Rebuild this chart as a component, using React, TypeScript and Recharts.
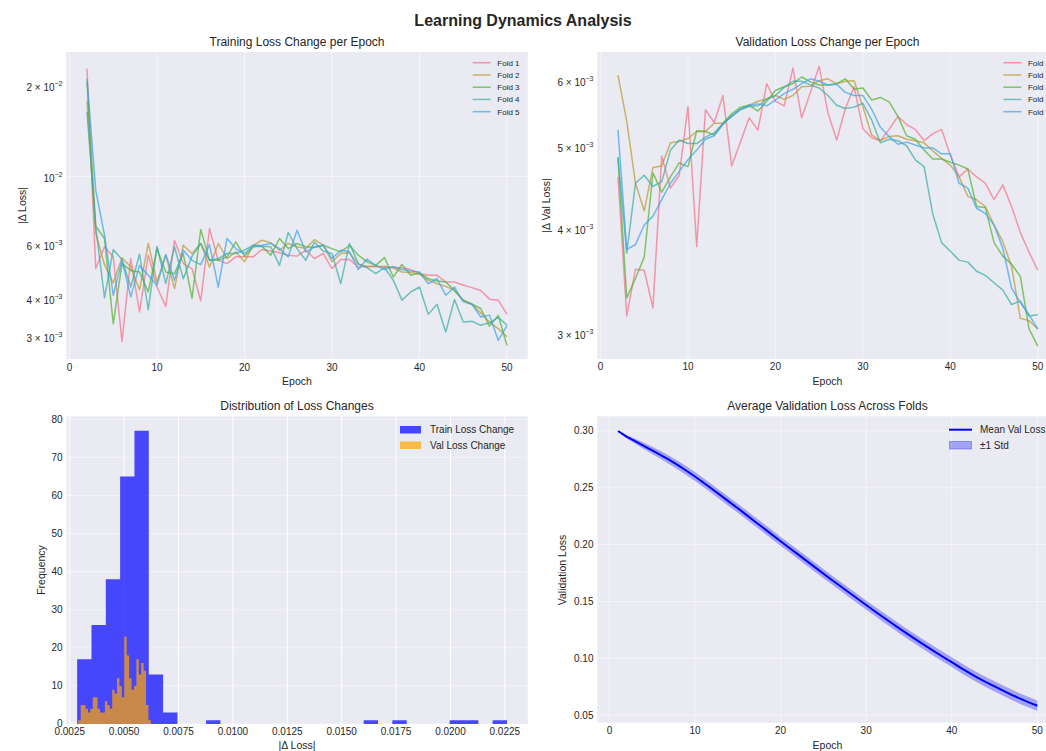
import React from "react";
import {
  LineChart,
  Line,
  ComposedChart,
  Area,
  XAxis,
  YAxis,
  CartesianGrid,
  ReferenceLine,
} from "recharts";

const INK = "#262626";
const PANEL_BG = "#EAEAF2";
const FONT = '"Liberation Sans", Arial, Helvetica, sans-serif';

const FOLD_NAMES = ["Fold 1", "Fold 2", "Fold 3", "Fold 4", "Fold 5"];
const FOLD_COLORS = ["#f77189", "#bb9832", "#50b131", "#36ada4", "#3ba3ec"];

const EPOCHS = [
  1, 2, 3, 4, 5, 6, 7, 8, 9, 10, 11, 12, 13, 14, 15, 16, 17, 18, 19, 20, 21, 22, 23, 24, 25,
  26, 27, 28, 29, 30, 31, 32, 33, 34, 35, 36, 37, 38, 39, 40, 41, 42, 43, 44, 45, 46, 47, 48, 49, 50,
];
// loss deltas exist from epoch 2 onwards
const DELTA_EPOCHS = EPOCHS.slice(1);

// |Δ train loss| per fold, epochs 2..50
const TRAIN_DELTA_FOLD1 = [
  0.0226, 0.00499, 0.00588, 0.00545, 0.00288, 0.00538, 0.0036, 0.00552, 0.00434, 0.00375,
  0.00618, 0.00518, 0.00499, 0.00391, 0.00675, 0.00531, 0.00518, 0.00545, 0.00545, 0.00545,
  0.00576, 0.0057, 0.00562, 0.00552, 0.00548, 0.00573, 0.00538, 0.00559, 0.00499, 0.00534,
  0.00534, 0.00505, 0.00507, 0.00507, 0.00505, 0.00502, 0.00502, 0.00495, 0.0048, 0.00474,
  0.00474, 0.00451, 0.00451, 0.0044, 0.00432, 0.00423, 0.00396, 0.00393, 0.00353,
];
const TRAIN_DELTA_FOLD2 = [
  0.0177, 0.0065, 0.00514, 0.00447, 0.00541, 0.00505, 0.00425, 0.00603, 0.00451, 0.00552,
  0.00429, 0.00595, 0.00559, 0.00603, 0.00505, 0.00603, 0.00538, 0.00566, 0.00525, 0.00595,
  0.00618, 0.00606, 0.00573, 0.00603, 0.00588, 0.0058, 0.00621, 0.00595, 0.00525, 0.00559,
  0.00562, 0.00515, 0.00507, 0.00507, 0.00507, 0.00502, 0.00486, 0.00484, 0.00478, 0.00457,
  0.00445, 0.00436, 0.00423, 0.00393, 0.00381, 0.00357, 0.00333, 0.00317, 0.00298,
];
const TRAIN_DELTA_FOLD3 = [
  0.0204, 0.00687, 0.00626, 0.00329, 0.00518, 0.00492, 0.00486, 0.00418, 0.0058, 0.00486,
  0.0048, 0.00559, 0.00398, 0.0067, 0.00531, 0.00531, 0.00545, 0.0061, 0.00548, 0.00588,
  0.0059, 0.00552, 0.00626, 0.0058, 0.00603, 0.00588, 0.00585, 0.00595, 0.0058, 0.00566,
  0.00595, 0.00552, 0.00525, 0.00511, 0.00542, 0.00468, 0.00515, 0.00474, 0.00483, 0.00462,
  0.00454, 0.00451, 0.00423, 0.00393, 0.00381, 0.00369, 0.00323, 0.0035, 0.00279,
];
const TRAIN_DELTA_FOLD4 = [
  0.0163, 0.00684, 0.004, 0.00576, 0.00534, 0.00434, 0.00556, 0.00366, 0.0059, 0.00445,
  0.00588, 0.00462, 0.00548, 0.00603, 0.00531, 0.00538, 0.00559, 0.00559, 0.00573, 0.00595,
  0.0059, 0.00588, 0.00511, 0.00655, 0.0058, 0.00531, 0.0061, 0.00569, 0.00559, 0.00445,
  0.00603, 0.00518, 0.00502, 0.0048, 0.00502, 0.00457, 0.00393, 0.00418, 0.00434, 0.00353,
  0.00381, 0.00309, 0.00395, 0.00333, 0.00335, 0.00325, 0.00331, 0.00345, 0.00325,
];
const TRAIN_DELTA_FOLD5 = [
  0.0209, 0.009, 0.00642, 0.00408, 0.00531, 0.00403, 0.00511, 0.00474, 0.0044, 0.00555,
  0.00457, 0.00573, 0.00531, 0.00514, 0.00598, 0.00434, 0.00626, 0.0058, 0.00559, 0.00592,
  0.00595, 0.00603, 0.0058, 0.00545, 0.00666, 0.00566, 0.00588, 0.00595, 0.00538, 0.00573,
  0.00566, 0.00495, 0.00536, 0.00511, 0.00495, 0.00507, 0.00495, 0.0049, 0.00486, 0.00445,
  0.00462, 0.00408, 0.00434, 0.00388, 0.00381, 0.00346, 0.00351, 0.0029, 0.00324,
];

// |Δ validation loss| per fold, epochs 2..50
const VAL_DELTA_FOLD1 = [
  0.0046, 0.00314, 0.00357, 0.00356, 0.00321, 0.00487, 0.00446, 0.00462, 0.00558, 0.0038,
  0.00553, 0.00534, 0.00575, 0.00474, 0.00506, 0.00541, 0.00523, 0.00594, 0.00566, 0.00559,
  0.0062, 0.00541, 0.0058, 0.00623, 0.00549, 0.00509, 0.00555, 0.00589, 0.00525, 0.00512,
  0.00508, 0.00524, 0.00543, 0.00531, 0.00524, 0.00508, 0.00518, 0.00524, 0.00488, 0.0046,
  0.0047, 0.0046, 0.00452, 0.00432, 0.0045, 0.00424, 0.00395, 0.00374, 0.00356,
];
const VAL_DELTA_FOLD2 = [
  0.00608, 0.00536, 0.00452, 0.00419, 0.00472, 0.00474, 0.00505, 0.00507, 0.00511, 0.00521,
  0.00521, 0.00533, 0.00533, 0.00543, 0.00554, 0.0056, 0.00566, 0.0057, 0.00575, 0.00569,
  0.00575, 0.00589, 0.0059, 0.00599, 0.00602, 0.00594, 0.00598, 0.00599, 0.00558, 0.00516,
  0.00508, 0.00514, 0.00515, 0.0051, 0.00508, 0.00505, 0.00494, 0.00484, 0.00475, 0.0046,
  0.00436, 0.00432, 0.00424, 0.00403, 0.00385, 0.0036, 0.00312, 0.0031, 0.00303,
];
const VAL_DELTA_FOLD3 = [
  0.00484, 0.0033, 0.00348, 0.00369, 0.00465, 0.00441, 0.0046, 0.00478, 0.00473, 0.00522,
  0.00521, 0.00516, 0.00533, 0.00547, 0.00557, 0.0056, 0.00551, 0.00566, 0.00583, 0.00589,
  0.00594, 0.00605, 0.00597, 0.00592, 0.00592, 0.00594, 0.00602, 0.00585, 0.00587, 0.00568,
  0.00572, 0.00565, 0.00543, 0.00515, 0.0051, 0.00495, 0.00483, 0.00483, 0.00479, 0.00475,
  0.0047, 0.00424, 0.00423, 0.00384, 0.0037, 0.00362, 0.0035, 0.00303, 0.00289,
];
const VAL_DELTA_FOLD4 = [
  0.00486, 0.00373, 0.00452, 0.00462, 0.00448, 0.00454, 0.00495, 0.00509, 0.00504, 0.00504,
  0.00513, 0.00519, 0.00532, 0.00543, 0.00553, 0.00558, 0.00559, 0.00569, 0.00575, 0.00588,
  0.00598, 0.00598, 0.00592, 0.00587, 0.00575, 0.0056, 0.00555, 0.00557, 0.00563, 0.00538,
  0.00505, 0.0051, 0.00508, 0.00501, 0.00482, 0.00473, 0.00415, 0.00384, 0.00375, 0.00366,
  0.00364, 0.00355, 0.00351, 0.00344, 0.00337, 0.00324, 0.00327, 0.00314, 0.00315,
];
const VAL_DELTA_FOLD5 = [
  0.00523, 0.00377, 0.00382, 0.00403, 0.00413, 0.00432, 0.00452, 0.00467, 0.00482, 0.00495,
  0.0051, 0.00515, 0.00531, 0.00544, 0.00554, 0.0056, 0.00562, 0.00559, 0.00568, 0.00578,
  0.00585, 0.00594, 0.00602, 0.00598, 0.00592, 0.00593, 0.0058, 0.00575, 0.00575, 0.00554,
  0.00527, 0.00514, 0.00503, 0.00506, 0.00502, 0.00498, 0.00498, 0.0049, 0.0049, 0.00452,
  0.00446, 0.00422, 0.00416, 0.00403, 0.00378, 0.00339, 0.00326, 0.00315, 0.00303,
];

const TRAIN_FOLDS = [TRAIN_DELTA_FOLD1, TRAIN_DELTA_FOLD2, TRAIN_DELTA_FOLD3, TRAIN_DELTA_FOLD4, TRAIN_DELTA_FOLD5];
const VAL_FOLDS = [VAL_DELTA_FOLD1, VAL_DELTA_FOLD2, VAL_DELTA_FOLD3, VAL_DELTA_FOLD4, VAL_DELTA_FOLD5];

// histogram of all deltas (30 equal-width bins over each range)
const TRAIN_HIST_RANGE = [0.00284, 0.0226];
const TRAIN_HIST_COUNTS = [
  17, 26, 38, 65, 77, 13, 3, 0, 0, 1, 0, 0, 0, 0, 0, 0, 0, 0, 0, 0, 1, 0, 1, 0, 0, 0, 1, 1, 0, 1,
];
const VAL_HIST_RANGE = [0.00289, 0.00623];
const VAL_HIST_COUNTS = [
  1, 5, 5, 4, 3, 4, 7, 7, 4, 3, 3, 6, 5, 4, 9, 8, 12, 10, 7, 23, 18, 12, 9, 10, 17, 13, 16, 14, 5, 1,
];

// mean / std of validation loss over folds, epochs 1..50
const MEAN_VAL_LOSS = [
  0.3, 0.295, 0.291, 0.287, 0.283, 0.2788, 0.2745, 0.27, 0.265, 0.26,
  0.2545, 0.2489, 0.2433, 0.2376, 0.232, 0.2262, 0.2204, 0.2146, 0.2088, 0.203,
  0.1973, 0.1916, 0.1859, 0.1802, 0.1745, 0.1689, 0.1633, 0.1578, 0.1523, 0.1468,
  0.1414, 0.1361, 0.1308, 0.1256, 0.1205, 0.1155, 0.1106, 0.1058, 0.1011, 0.0965,
  0.0918, 0.0873, 0.083, 0.079, 0.0752, 0.0714, 0.0678, 0.0644, 0.0612, 0.0582,
];
const STD_VAL_LOSS = [
  0.0005, 0.0015, 0.0022, 0.0028, 0.0032, 0.0035, 0.0037, 0.0038, 0.0039, 0.0039,
  0.004, 0.004, 0.004, 0.004, 0.004, 0.004, 0.004, 0.004, 0.004, 0.004,
  0.004, 0.004, 0.004, 0.004, 0.004, 0.004, 0.004, 0.0041, 0.0041, 0.0041,
  0.0041, 0.0041, 0.0042, 0.0042, 0.0042, 0.0042, 0.0043, 0.0043, 0.0043, 0.0043,
  0.0044, 0.0044, 0.0044, 0.0045, 0.0045, 0.0045, 0.0046, 0.0046, 0.0046, 0.0046,
];

const EPOCH_TICKS = [0, 10, 20, 30, 40, 50];
const TRAIN_DELTA_TICKS = [0.003, 0.004, 0.006, 0.01, 0.02];
const VAL_DELTA_TICKS = [0.003, 0.004, 0.005, 0.006];
const HIST_X_TICKS = [0.0025, 0.005, 0.0075, 0.01, 0.0125, 0.015, 0.0175, 0.02, 0.0225];
const HIST_Y_TICKS = [0, 10, 20, 30, 40, 50, 60, 70, 80];
const LOSS_TICKS = [0.05, 0.1, 0.15, 0.2, 0.25, 0.3];

const foldRows = (folds: number[][]) =>
  DELTA_EPOCHS.map((epoch, i) => {
    const row: Record<string, number> = { epoch };
    folds.forEach((f, k) => (row[`f${k + 1}`] = f[i]));
    return row;
  });

const trainRows = foldRows(TRAIN_FOLDS);
const valRows = foldRows(VAL_FOLDS);

// step-area points: left edge of every bin, then a closing edge at zero
const binEdges = (range: number[], counts: number[]) => {
  const w = (range[1] - range[0]) / counts.length;
  const pts = counts.map((c, i) => ({ x: range[0] + i * w, c }));
  pts.push({ x: range[1], c: 0 });
  return pts;
};

const histRows = (() => {
  const rows: { x: number; train?: number; val?: number }[] = [];
  binEdges(TRAIN_HIST_RANGE, TRAIN_HIST_COUNTS).forEach((p) => rows.push({ x: p.x, train: p.c }));
  binEdges(VAL_HIST_RANGE, VAL_HIST_COUNTS).forEach((p) => rows.push({ x: p.x, val: p.c }));
  return rows.sort((a, b) => a.x - b.x);
})();

const lossRows = EPOCHS.map((epoch, i) => ({
  epoch,
  mean: MEAN_VAL_LOSS[i],
  band: [MEAN_VAL_LOSS[i] - STD_VAL_LOSS[i], MEAN_VAL_LOSS[i] + STD_VAL_LOSS[i]],
}));

const xTick = (fmt: (v: number) => string) => (p: any) => (
  <text x={p.x} y={p.y + 11.5} textAnchor="middle" fontSize={10} fill={INK} fontFamily={FONT}>
    {fmt(p.payload.value)}
  </text>
);

const yTick = (fmt: (v: number) => string) => (p: any) => (
  <text x={p.x - 3.5} y={p.y + 3.5} textAnchor="end" fontSize={10} fill={INK} fontFamily={FONT}>
    {fmt(p.payload.value)}
  </text>
);

// "6 × 10⁻³" style labels for the log axes
const logTick = (p: any) => {
  const v = p.payload.value as number;
  const exp = Math.floor(Math.log10(v) + 1e-9);
  const mant = Math.round(v / Math.pow(10, exp));
  return (
    <text x={p.x - 3.5} y={p.y + 6} textAnchor="end" fontSize={10} fill={INK} fontFamily={FONT}>
      {mant !== 1 ? `${mant} × 10` : "10"}
      <tspan dy={-5} fontSize={7}>{`\u2212${-exp}`}</tspan>
    </text>
  );
};

const plain = (v: number) => String(v);

function FoldLines({ folds }: { folds: number[][] }) {
  return (
    <>
      {folds.map((_, k) => (
        <Line
          key={k}
          dataKey={`f${k + 1}`}
          stroke={FOLD_COLORS[k]}
          strokeWidth={1.5}
          strokeOpacity={0.7}
          strokeLinejoin="round"
          dot={false}
          activeDot={false}
          isAnimationActive={false}
        />
      ))}
    </>
  );
}

function TrainDeltaChart() {
  return (
    <LineChart width={522} height={342} data={trainRows} margin={{ top: 5, right: 0, bottom: 0, left: 0 }}>
      <CartesianGrid fill={PANEL_BG} fillOpacity={1} horizontal={false} stroke="#fff" strokeOpacity={0.5} />
      <ReferenceLine y={0.01} stroke="#fff" strokeOpacity={0.5} />
      <XAxis
        dataKey="epoch"
        type="number"
        domain={[-0.4, 52.4]}
        ticks={EPOCH_TICKS}
        allowDataOverflow
        height={30}
        axisLine={false}
        tickLine={false}
        tickSize={0}
        tickMargin={0}
        tick={xTick(plain)}
      />
      <YAxis
        type="number"
        scale="log"
        domain={[0.00252, 0.0256]}
        ticks={TRAIN_DELTA_TICKS}
        allowDataOverflow
        width={60}
        axisLine={false}
        tickLine={false}
        tickSize={0}
        tickMargin={0}
        tick={logTick}
      />
      {FoldLines({ folds: TRAIN_FOLDS })}
    </LineChart>
  );
}

function ValDeltaChart() {
  return (
    <LineChart width={521.8} height={342} data={valRows} margin={{ top: 5, right: 0, bottom: 0, left: 0 }}>
      <CartesianGrid fill={PANEL_BG} fillOpacity={1} horizontal={false} stroke="#fff" strokeOpacity={0.5} />
      <XAxis
        dataKey="epoch"
        type="number"
        domain={[-0.4, 52.4]}
        ticks={EPOCH_TICKS}
        allowDataOverflow
        height={30}
        axisLine={false}
        tickLine={false}
        tickSize={0}
        tickMargin={0}
        tick={xTick(plain)}
      />
      <YAxis
        type="number"
        scale="log"
        domain={[0.00279, 0.00648]}
        ticks={VAL_DELTA_TICKS}
        allowDataOverflow
        width={60}
        axisLine={false}
        tickLine={false}
        tickSize={0}
        tickMargin={0}
        tick={logTick}
      />
      {FoldLines({ folds: VAL_FOLDS })}
    </LineChart>
  );
}

function DeltaHistogram() {
  return (
    <ComposedChart width={522.3} height={343} data={histRows} margin={{ top: 5, right: 0, bottom: 0, left: 0 }}>
      <CartesianGrid fill={PANEL_BG} fillOpacity={1} vertical={false} stroke="#fff" strokeOpacity={0.45} />
      <CartesianGrid horizontal={false} stroke="#fff" strokeOpacity={1} />
      <XAxis
        dataKey="x"
        type="number"
        domain={[0.002327, 0.02358]}
        ticks={HIST_X_TICKS}
        allowDataOverflow
        height={30}
        axisLine={false}
        tickLine={false}
        tickSize={0}
        tickMargin={0}
        tick={xTick((v) => v.toFixed(4))}
      />
      <YAxis
        type="number"
        domain={[0, 80.85]}
        ticks={HIST_Y_TICKS}
        allowDataOverflow
        width={60}
        axisLine={false}
        tickLine={false}
        tickSize={0}
        tickMargin={0}
        tick={yTick(plain)}
      />
      <Area
        dataKey="train"
        type="stepAfter"
        connectNulls
        fill="#0000FF"
        fillOpacity={0.7}
        stroke="none"
        dot={false}
        activeDot={false}
        isAnimationActive={false}
      />
      <Area
        dataKey="val"
        type="stepAfter"
        connectNulls
        fill="#FFA500"
        fillOpacity={0.7}
        stroke="none"
        dot={false}
        activeDot={false}
        isAnimationActive={false}
      />
    </ComposedChart>
  );
}

function MeanLossChart() {
  return (
    <ComposedChart width={521.3} height={342} data={lossRows} margin={{ top: 5, right: 0, bottom: 0, left: 0 }}>
      <CartesianGrid fill={PANEL_BG} fillOpacity={1} stroke="#fff" strokeOpacity={0.5} />
      <XAxis
        dataKey="epoch"
        type="number"
        domain={[-1.45, 52.45]}
        ticks={EPOCH_TICKS}
        allowDataOverflow
        height={30}
        axisLine={false}
        tickLine={false}
        tickSize={0}
        tickMargin={0}
        tick={xTick(plain)}
      />
      <YAxis
        type="number"
        domain={[0.043, 0.3132]}
        ticks={LOSS_TICKS}
        allowDataOverflow
        width={60}
        axisLine={false}
        tickLine={false}
        tickSize={0}
        tickMargin={0}
        tick={yTick((v) => v.toFixed(2))}
      />
      <Area
        dataKey="band"
        type="linear"
        fill="#0000FF"
        fillOpacity={0.3}
        stroke="none"
        dot={false}
        activeDot={false}
        isAnimationActive={false}
      />
      <Line
        dataKey="mean"
        type="linear"
        stroke="#0000FF"
        strokeWidth={2}
        dot={false}
        activeDot={false}
        isAnimationActive={false}
      />
    </ComposedChart>
  );
}

function FoldLegend({ x }: { x: number }) {
  return (
    <g>
      {FOLD_NAMES.map((name, i) => {
        const y = 62.7 + 12.25 * i;
        return (
          <g key={name}>
            <line x1={x} x2={x + 18} y1={y} y2={y} stroke={FOLD_COLORS[i]} strokeWidth={1.5} strokeOpacity={0.7} />
            <text x={x + 24.6} y={y + 2.9} fontSize={8}>
              {name}
            </text>
          </g>
        );
      })}
    </g>
  );
}

function Annotations() {
  return (
    <svg
      width={1046}
      height={751}
      style={{ position: "absolute", left: 0, top: 0, pointerEvents: "none" }}
      fontFamily={FONT}
      fill={INK}
    >
      <text x={523} y={25.6} textAnchor="middle" fontSize={16} fontWeight="bold">
        Learning Dynamics Analysis
      </text>

      <text x={297} y={45.9} textAnchor="middle" fontSize={12}>
        Training Loss Change per Epoch
      </text>
      <text x={827.5} y={45.9} textAnchor="middle" fontSize={12}>
        Validation Loss Change per Epoch
      </text>
      <text x={297} y={409.9} textAnchor="middle" fontSize={12}>
        Distribution of Loss Changes
      </text>
      <text x={827.5} y={409.9} textAnchor="middle" fontSize={12}>
        Average Validation Loss Across Folds
      </text>

      <text x={297} y={385.4} textAnchor="middle" fontSize={10.5}>
        Epoch
      </text>
      <text x={827.5} y={385.4} textAnchor="middle" fontSize={10.5}>
        Epoch
      </text>
      <text x={297} y={748.7} textAnchor="middle" fontSize={10.5}>
        |Δ Loss|
      </text>
      <text x={827.5} y={748.7} textAnchor="middle" fontSize={10.5}>
        Epoch
      </text>

      <text transform="translate(25.5,205.5) rotate(-90)" textAnchor="middle" fontSize={10.5}>
        |Δ Loss|
      </text>
      <text transform="translate(550.3,205.5) rotate(-90)" textAnchor="middle" fontSize={10.5}>
        |Δ Val Loss|
      </text>
      <text transform="translate(45.3,570) rotate(-90)" textAnchor="middle" fontSize={10.5}>
        Frequency
      </text>
      <text transform="translate(565.9,570) rotate(-90)" textAnchor="middle" fontSize={10.5}>
        Validation Loss
      </text>

      <FoldLegend x={472.7} />
      <FoldLegend x={1003.3} />

      <rect x={400} y={426} width={21} height={7.5} fill="#0000FF" fillOpacity={0.7} />
      <text x={430} y={433.3} fontSize={10}>
        Train Loss Change
      </text>
      <rect x={400} y={441.5} width={21} height={7.5} fill="#FFA500" fillOpacity={0.7} />
      <text x={430} y={448.8} fontSize={10}>
        Val Loss Change
      </text>

      <line x1={949} x2={972} y1={429.7} y2={429.7} stroke="#0000FF" strokeWidth={2} />
      <text x={980} y={433.3} fontSize={10}>
        Mean Val Loss
      </text>
      <rect x={949.5} y={441.5} width={22} height={7.5} fill="#0000FF" fillOpacity={0.3} stroke="#0000FF" strokeOpacity={0.3} />
      <text x={980} y={448.8} fontSize={10}>
        ±1 Std
      </text>
    </svg>
  );
}

export default function App() {
  return (
    <div
      style={{
        position: "absolute",
        left: 0,
        top: 0,
        width: 1046,
        height: 751,
        overflow: "hidden",
        background: "#fff",
        fontFamily: FONT,
      }}
    >
      <div style={{ position: "absolute", left: 6, top: 47 }}>
        <TrainDeltaChart />
      </div>
      <div style={{ position: "absolute", left: 536.7, top: 47 }}>
        <ValDeltaChart />
      </div>
      <div style={{ position: "absolute", left: 5.7, top: 411 }}>
        <DeltaHistogram />
      </div>
      <div style={{ position: "absolute", left: 536.7, top: 411 }}>
        <MeanLossChart />
      </div>
      <Annotations />
    </div>
  );
}
